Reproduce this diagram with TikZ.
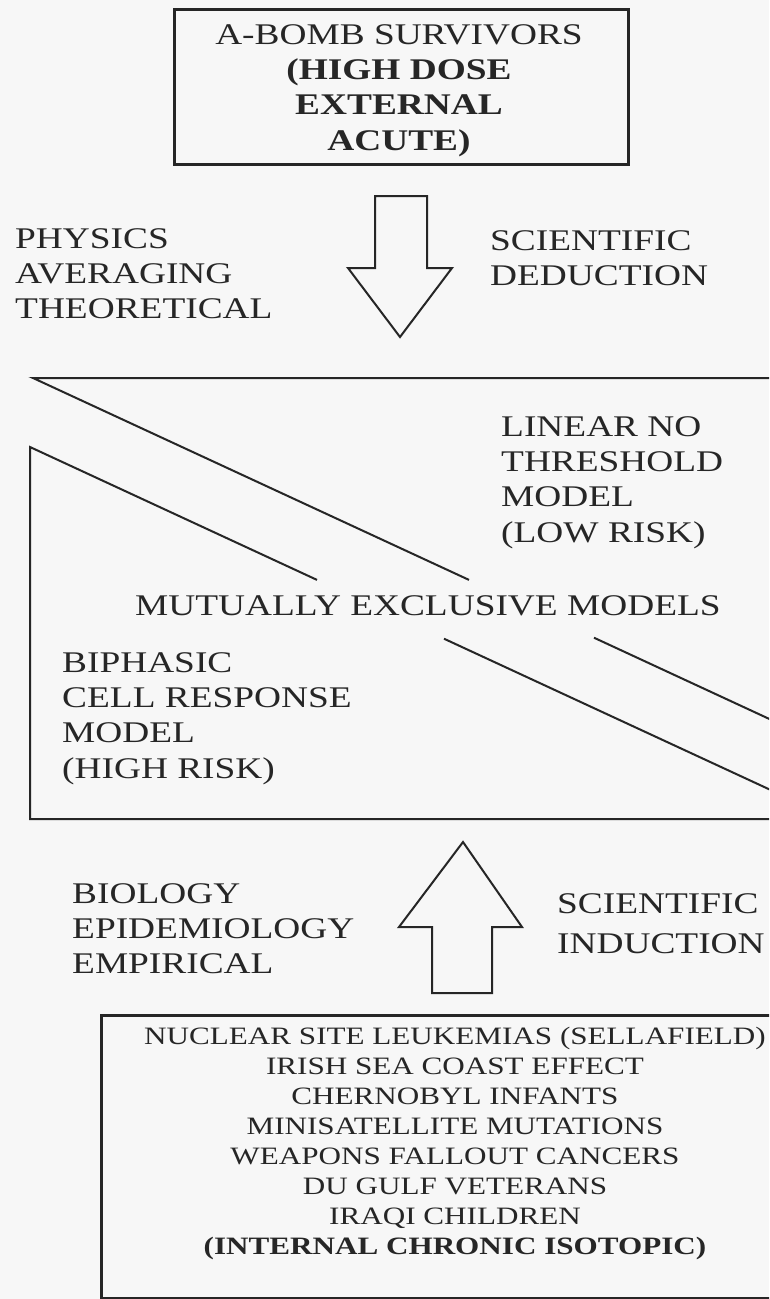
\documentclass[tikz,border=0pt]{standalone}
\usepackage{fontspec}
\newfontfamily\scanfont[FakeStretch=1.245]{Liberation Serif}
\begin{document}
\begin{tikzpicture}[x=1pt,y=-1pt,
  ink/.style={draw=black!85, line width=2pt, line join=miter},
  boxline/.style={draw=black!85, line width=3.2pt},
  lbl/.style={font=\scanfont\fontsize{30}{35.4}\selectfont, text=black!85, inner sep=0pt, align=left, anchor=base west},
  ctr/.style={font=\scanfont\fontsize{30}{35.4}\selectfont, text=black!85, inner sep=0pt, align=center, anchor=base},
  lst/.style={font=\scanfont\fontsize{25}{30}\selectfont, text=black!85, inner sep=0pt, align=center, anchor=base}]
\useasboundingbox (0,0) rectangle (769,1299);
\fill[black!3] (0,0) rectangle (769,1299);
\clip (0,0) rectangle (769,1299);

% ---- top box (anchor base = baseline of the last line)
\node[boxline, minimum width=454pt, minimum height=155pt, anchor=north west, inner sep=0pt] (src) at (173,8) {};
\node[ctr] (srctxt) at (399,150.2) {A-BOMB SURVIVORS\\ \textbf{(HIGH DOSE}\\ \textbf{EXTERNAL}\\ \textbf{ACUTE)}};

% ---- side labels, deduction
\node[lbl] (phys) at (15,318.8) {PHYSICS\\AVERAGING\\THEORETICAL};
\node[lbl] (ded) at (490,285.4) {SCIENTIFIC\\DEDUCTION};

% ---- down block arrow
\draw[ink] (375,196) -- (427,196) -- (427,268) -- (452,268) -- (400,337)
  -- (348,268) -- (375,268) -- cycle;

% ---- models frame
\coordinate (tl) at (33,378);
\coordinate (tr) at (780,378);
\coordinate (il) at (30,447);
\coordinate (bl) at (30,819);
\coordinate (br) at (780,819);
\coordinate (a1) at (469,579.9);
\coordinate (a2) at (594,637.7);
\coordinate (a3) at (780,723.9);
\coordinate (b1) at (317,579.9);
\coordinate (b2) at (444,638.7);
\coordinate (b3) at (780,794.3);
\draw[ink] (tr) -- (tl) -- (a1);
\draw[ink] (a2) -- (a3);
\draw[ink] (b1) -- (il) -- (bl) -- (br);
\draw[ink] (b2) -- (b3);

\node[lbl] (lnt) at (501,542.2) {LINEAR NO\\THRESHOLD\\MODEL\\(LOW RISK)};
\node[lbl] (mut) at (135,615) {MUTUALLY EXCLUSIVE MODELS};
\node[lbl] (bip) at (62,778.2) {BIPHASIC\\CELL RESPONSE\\MODEL\\(HIGH RISK)};

% ---- up block arrow
\draw[ink] (432,993) -- (492,993) -- (492,927) -- (522,927) -- (463,842)
  -- (399,927) -- (432,927) -- cycle;

\node[lbl] (bio) at (72,973.8) {BIOLOGY\\EPIDEMIOLOGY\\EMPIRICAL};
\node[lbl, font=\scanfont\fontsize{30}{40}\selectfont] (ind) at (557,953) {SCIENTIFIC\\INDUCTION};

% ---- bottom box
\node[boxline, minimum width=720pt, minimum height=283pt, anchor=north west, inner sep=0pt] (evid) at (100,1014) {};
\node[lst] (evtxt) at (455,1254.8) {NUCLEAR SITE LEUKEMIAS (SELLAFIELD)\\
IRISH SEA COAST EFFECT\\
CHERNOBYL INFANTS\\
MINISATELLITE MUTATIONS\\
WEAPONS FALLOUT CANCERS\\
DU GULF VETERANS\\
IRAQI CHILDREN\\
\textbf{(INTERNAL CHRONIC ISOTOPIC)}};
\end{tikzpicture}
\end{document}
